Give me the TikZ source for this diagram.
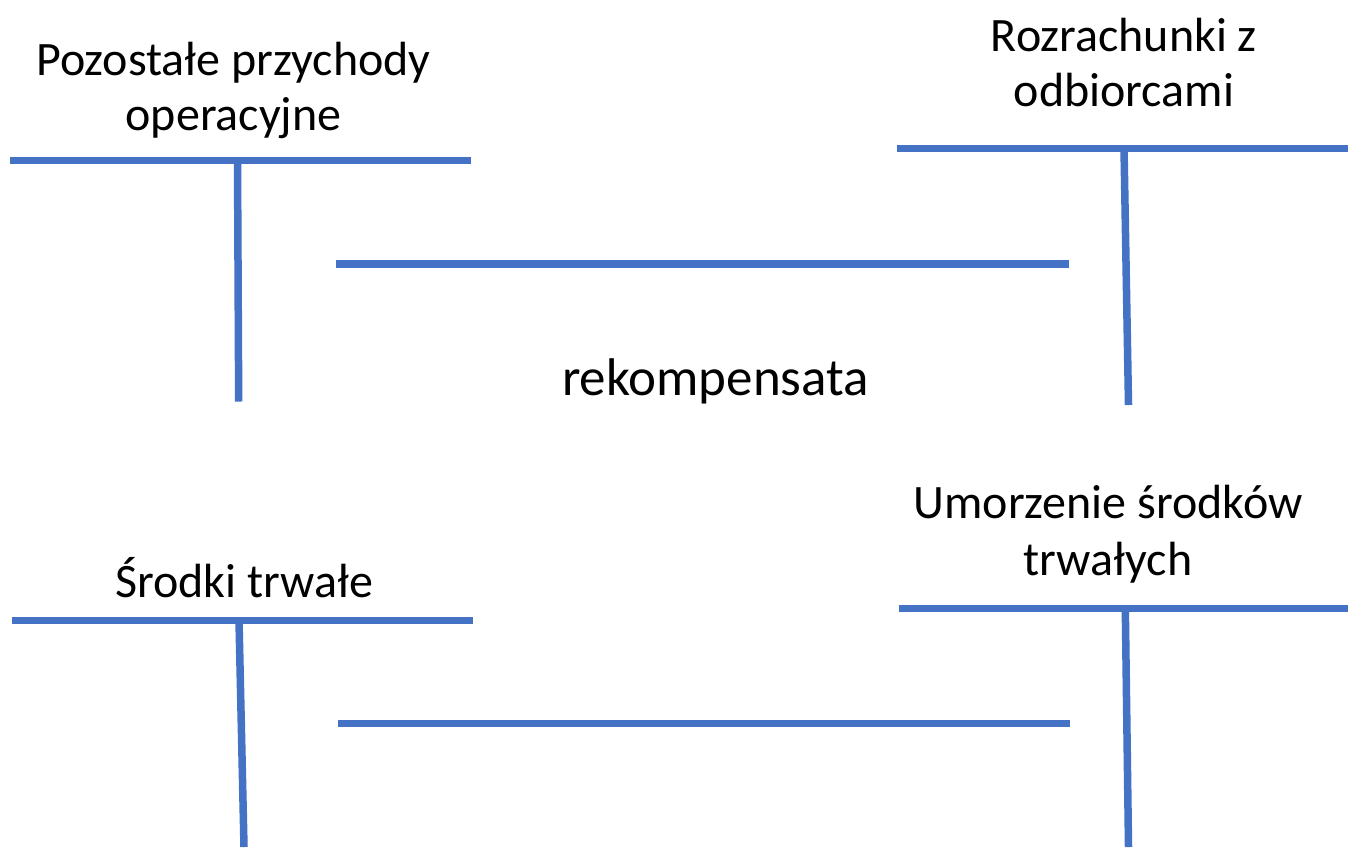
\documentclass[tikz,border=0pt]{standalone}
\usepackage{fontspec}
\setmainfont{Carlito}
\definecolor{lineblue}{HTML}{4472C4}
\begin{document}
\begin{tikzpicture}[x=1pt,y=-1pt,
  tline/.style={draw=lineblue,line width=7.5pt},
  lbl/.style={font=\fontsize{48}{55}\selectfont,align=center,inner sep=0pt}]
\useasboundingbox (0,0) rectangle (1348,847);
% T account 1
\coordinate (a1l) at (10,160.5);
\coordinate (a1r) at (471,160.5);
\coordinate (a1t) at (237.5,160.5);
\coordinate (a1b) at (238.7,401.5);
\draw[tline] (a1l) -- (a1r);
\draw[tline] (a1t) -- (a1b);
% T account 2
\coordinate (a2l) at (897,148.5);
\coordinate (a2r) at (1348,148.5);
\coordinate (a2t) at (1124,148.5);
\coordinate (a2b) at (1128.5,405);
\draw[tline] (a2l) -- (a2r);
\draw[tline] (a2t) -- (a2b);
% T account 3
\coordinate (a3l) at (12,620.5);
\coordinate (a3r) at (472.5,620.5);
\coordinate (a3t) at (239,620.5);
\coordinate (a3b) at (244,847);
\draw[tline] (a3l) -- (a3r);
\draw[tline] (a3t) -- (a3b);
% T account 4
\coordinate (a4l) at (898.5,608.5);
\coordinate (a4r) at (1348,608.5);
\coordinate (a4t) at (1125.3,608.5);
\coordinate (a4b) at (1128.5,847);
\draw[tline] (a4l) -- (a4r);
\draw[tline] (a4t) -- (a4b);
% middle lines
\coordinate (m1l) at (336,264);
\coordinate (m1r) at (1069,264);
\coordinate (m2l) at (337.7,723.5);
\coordinate (m2r) at (1070,723.5);
\draw[tline] (m1l) -- (m1r);
\draw[tline] (m2l) -- (m2r);
% labels
\node[lbl] (t1) at (233.5,90) {Pozostałe przychody\\operacyjne};
\node[lbl] (t2) at (1124,62.5) {Rozrachunki z\\odbiorcami};
\node[lbl,font=\fontsize{53}{60}\selectfont] (t3) at (715.5,381) {rekompensata};
\node[lbl,font=\fontsize{48}{57}\selectfont] (t4) at (1108,534) {Umorzenie środków\\trwałych};
\node[lbl] (t5) at (244,578) {Środki trwałe};
\end{tikzpicture}
\end{document}
